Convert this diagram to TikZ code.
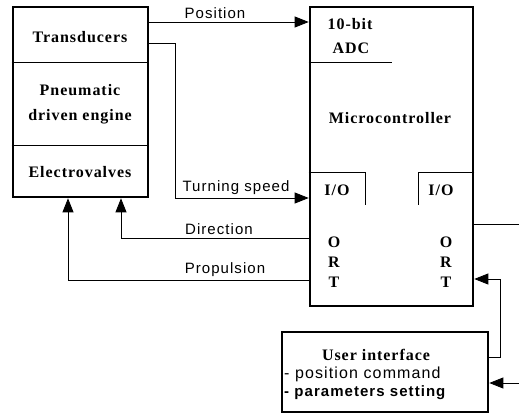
\documentclass[tikz,border=0pt]{standalone}
\usepackage{fontspec}
\setmainfont{Liberation Serif}[LetterSpace=6]
\setsansfont{Liberation Sans}[LetterSpace=7]
\usetikzlibrary{arrows.meta}

\begin{document}
\begin{tikzpicture}[x=1pt,y=-1pt,
  blk/.style={draw, line width=2.6pt, inner sep=0pt},
  sig/.style={line width=0.8pt},
  tip/.style={-{Triangle[length=14pt,width=11pt]}},
  blab/.style={font=\fontsize{16}{18}\selectfont\bfseries, inner sep=0pt},
  slab/.style={font=\sffamily\fontsize{15}{17}\selectfont, inner sep=0pt}]
\useasboundingbox (0,0) rectangle (519,414);
% plant side
\node[blk, minimum width=135pt, minimum height=190pt] (plant) at (80.5,102) {};
\draw[sig] (plant.west |- 0,62) -- (plant.east |- 0,62);
\draw[sig] (plant.west |- 0,145) -- (plant.east |- 0,145);
\node[blab] (transd) at (80,37) {Transducers};
\node[blab, align=center] (pneu) at (80,104) {Pneumatic\\[7pt]driven engine};
\node[blab] (valves) at (80,172) {Electrovalves};
% microcontroller
\node[blk, minimum width=163pt, minimum height=299pt] (mcu) at (391.5,156.5) {};
\draw[sig] (mcu.west |- 0,62) -- (392,62);
\node[blab] (bits) at (350,24) {10-bit};
\node[blab] (adc) at (351,48) {ADC};
\node[blab] (mctext) at (390,118) {Microcontroller};
\draw[sig] (mcu.west |- 0,172) -| (365,205);
\draw[sig] (mcu.east |- 0,172) -| (418,205);
\node[blab] (iol) at (337,190) {I/O};
\node[blab] (ior) at (441,190) {I/O};
\node[blab, align=center] (portl) at (334,262) {O\\[2pt]R\\[2pt]T};
\node[blab, align=center] (portr) at (446,262) {O\\[2pt]R\\[2pt]T};
% user interface
\node[blk, minimum width=206pt, minimum height=80pt] (ui) at (385,372) {};
\node[blab] (uititle) at (376,355) {User interface};
\node[slab, anchor=west, font=\sffamily\fontsize{16}{18}\selectfont] (cmd) at (284,374) {- position command};
\node[slab, anchor=west, font=\sffamily\bfseries\fontsize{15}{17}\selectfont] (setp) at (284,393) {- parameters setting};
% signals
\draw[sig,tip] (plant.east |- 0,22) -- (mcu.west |- 0,22);
\node[slab] (pos) at (215,13) {Position};
\draw[sig,tip] (plant.east |- 0,43) -| (175,198) -- (mcu.west |- 0,198);
\node[slab] (turn) at (236,188) {Turning speed};
\draw[sig,tip] (mcu.west |- 0,238) -| (plant.south -| 121,0);
\node[slab] (dir) at (219,229) {Direction};
\draw[sig,tip] (mcu.west |- 0,280) -| (plant.south -| 68,0);
\node[slab] (prop) at (225,270) {Propulsion};
\coordinate (outA) at (519,224);
\coordinate (inB) at (519,383);
\draw[sig] (mcu.east |- 0,224) -- (outA);
\draw[sig,tip] (inB) -- (ui.east |- inB);
\draw[sig,tip] (ui.east |- 0,357) -| (500,279) -- (mcu.east |- 0,279);
\end{tikzpicture}
\end{document}
